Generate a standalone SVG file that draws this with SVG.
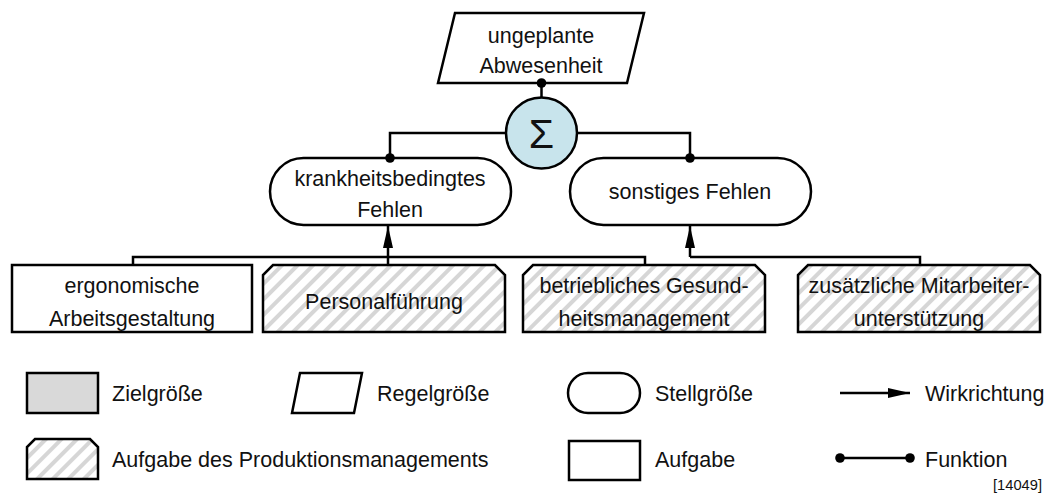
<svg xmlns="http://www.w3.org/2000/svg" width="1051" height="497" viewBox="0 0 1051 497">
  <defs>
    <pattern id="hatch" patternUnits="userSpaceOnUse" width="11" height="11" patternTransform="rotate(45)">
      <rect width="11" height="11" fill="#ffffff"/>
      <rect x="0" y="0" width="4" height="11" fill="#d6d6d6"/>
    </pattern>
    <marker id="arrow" viewBox="0 0 22 10" refX="22" refY="5" markerWidth="22" markerHeight="10" markerUnits="userSpaceOnUse" orient="auto">
      <path d="M0,0 L22,5 L0,10 Z" fill="#000"/>
    </marker>
    <marker id="dot" viewBox="-5 -5 10 10" refX="0" refY="0" markerWidth="10" markerHeight="10" markerUnits="userSpaceOnUse">
      <circle r="4.8" fill="#000"/>
    </marker>
  </defs>
  <style>
    .shape { stroke: #000; stroke-width: 2.5; fill: #fff; stroke-linejoin: miter; }
    .task { fill: url(#hatch); }
    .goal { fill: #d9d9d9; }
    .sum { fill: #c8e4ec; }
    .wire { stroke: #000; stroke-width: 2.5; fill: none; }
    text { font-family: "Liberation Sans", Arial, sans-serif; font-size: 21.5px; fill: #111; }
    .c { text-anchor: middle; }
    .small { font-size: 14.7px; }
  </style>

  <g id="ungeplante-abwesenheit">
    <polygon class="shape" points="455,13 644,13 627,83 438,83"/>
    <text class="c" x="541" y="43">ungeplante</text>
    <text class="c" x="541" y="73">Abwesenheit</text>
  </g>

  <g id="summe">
    <circle class="shape sum" cx="541.5" cy="133" r="35.5"/>
    <text class="c" x="541.5" y="148" style="font-size:41px">Σ</text>
  </g>

  <g id="krankheitsbedingtes-fehlen">
    <rect class="shape" x="270" y="158" width="241" height="67" rx="33.5"/>
    <text class="c" x="390" y="186">krankheitsbedingtes</text>
    <text class="c" x="390" y="217">Fehlen</text>
  </g>

  <g id="sonstiges-fehlen">
    <rect class="shape" x="570" y="158" width="241" height="67" rx="33.5"/>
    <text class="c" x="690" y="199">sonstiges Fehlen</text>
  </g>

  <g id="ergonomische-arbeitsgestaltung">
    <rect class="shape" x="12" y="265" width="240" height="67"/>
    <text class="c" x="132" y="293">ergonomische</text>
    <text class="c" x="132" y="326">Arbeitsgestaltung</text>
  </g>

  <g id="personalfuehrung">
    <path class="shape task" d="M263,332 V275 L273,265 H495 L505,275 V332 Z"/>
    <text class="c" x="384" y="309">Personalführung</text>
  </g>

  <g id="betriebliches-gesundheitsmanagement">
    <path class="shape task" d="M523,332 V275 L533,265 H755 L765,275 V332 Z"/>
    <text class="c" x="644" y="293">betriebliches Gesund-</text>
    <text class="c" x="644" y="326">heitsmanagement</text>
  </g>

  <g id="zusaetzliche-mitarbeiterunterstuetzung">
    <path class="shape task" d="M798,332 V275 L808,265 H1030 L1040,275 V332 Z"/>
    <text class="c" x="919" y="293">zusätzliche Mitarbeiter-</text>
    <text class="c" x="919" y="326">unterstützung</text>
  </g>

  <!-- connectors, drawn above the nodes so the function dots stay whole -->
  <g id="connectors">
    <line class="wire" x1="541.5" y1="83" x2="541.5" y2="98" marker-start="url(#dot)"/>
    <polyline class="wire" points="506,133 390,133 390,158" marker-end="url(#dot)"/>
    <polyline class="wire" points="577,133 690,133 690,158" marker-end="url(#dot)"/>
    <!-- left bus -->
    <polyline class="wire" points="133,265 133,257 645,257 645,265"/>
    <line class="wire" x1="388" y1="257" x2="388" y2="265"/>
    <line class="wire" x1="388" y1="257" x2="388" y2="226" marker-end="url(#arrow)"/>
    <!-- right bus -->
    <polyline class="wire" points="690,257 920,257 920,265"/>
    <line class="wire" x1="690" y1="257" x2="690" y2="226" marker-end="url(#arrow)"/>
  </g>

  <!-- legend -->
  <g id="legend-zielgroesse">
    <rect class="shape goal" x="27" y="373" width="71" height="40"/>
    <text x="112" y="401">Zielgröße</text>
  </g>
  <g id="legend-regelgroesse">
    <polygon class="shape" points="300,373 362,373 354,413 292,413"/>
    <text x="377" y="401">Regelgröße</text>
  </g>
  <g id="legend-stellgroesse">
    <rect class="shape" x="568" y="373" width="72" height="40" rx="20"/>
    <text x="655" y="401">Stellgröße</text>
  </g>
  <g id="legend-wirkrichtung">
    <line class="wire" x1="840" y1="393" x2="910" y2="393" marker-end="url(#arrow)"/>
    <text x="925" y="401">Wirkrichtung</text>
  </g>
  <g id="legend-aufgabe-pm">
    <path class="shape task" d="M27,479 V447 L35,439 H90 L98,447 V479 Z"/>
    <text x="112" y="467">Aufgabe des Produktionsmanagements</text>
  </g>
  <g id="legend-aufgabe">
    <rect class="shape" x="569" y="441" width="71" height="39"/>
    <text x="655" y="467">Aufgabe</text>
  </g>
  <g id="legend-funktion">
    <line class="wire" x1="840" y1="458" x2="910" y2="458" marker-start="url(#dot)" marker-end="url(#dot)"/>
    <text x="925" y="467">Funktion</text>
  </g>
  <text class="small" x="1042" y="490" text-anchor="end">[14049]</text>
</svg>
